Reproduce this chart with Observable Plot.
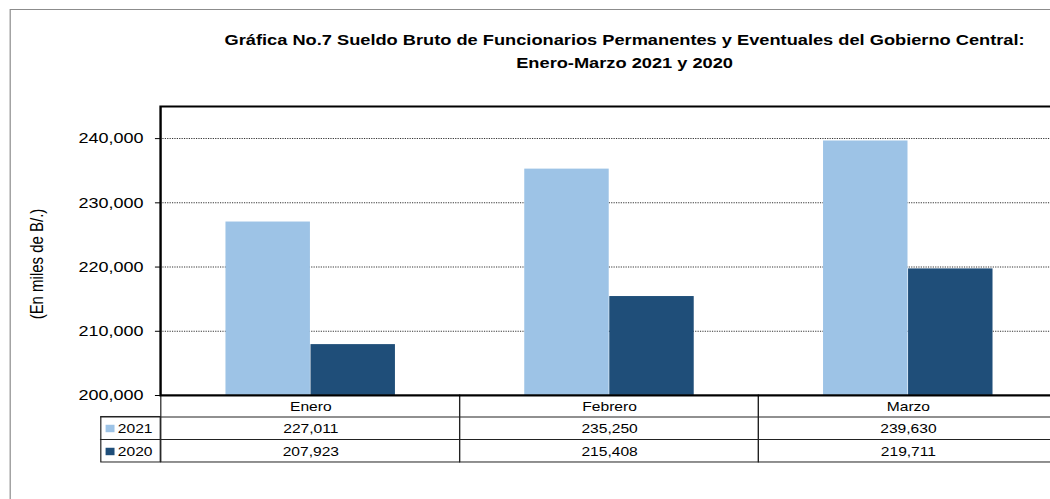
<!DOCTYPE html>
<html><head><meta charset="utf-8">
<script src="https://cdn.jsdelivr.net/npm/d3@7"></script>
<script src="https://cdn.jsdelivr.net/npm/@observablehq/plot@0.6"></script>
<style>
html,body{margin:0;padding:0;background:#fff;overflow:hidden;width:1050px;height:499px;}
#stage{position:absolute;left:0;top:0;width:900px;height:499px;transform:scaleX(1.2);transform-origin:0 0;font-family:"Liberation Sans",Arial,sans-serif;}
#border{position:absolute;left:7.5px;top:8.5px;width:1000px;height:600px;border:1px solid #8c8c8c;}
#title{position:absolute;left:0;top:28px;width:1041px;text-align:center;font-weight:bold;font-size:15.2px;line-height:23px;color:#000;}
#chart{position:absolute;left:0;top:95px;}
</style></head><body>
<div id="stage"><div id="border"></div><div id="title"></div><div id="chart"></div></div>
<script>
const months = ["Enero", "Febrero", "Marzo"];
const years = ["2021", "2020"];
const values2021 = [227011, 235250, 239630];
const values2020 = [207923, 215408, 219711];
const yTicks = [200000, 210000, 220000, 230000, 240000];
const gridTicks = [210000, 220000, 230000, 240000];
const yDomain = [200000, 245000];
const colors = ["#9DC3E6", "#1F4E79"];
const titleLines = ["Gráfica No.7 Sueldo Bruto de Funcionarios Permanentes y Eventuales del Gobierno Central:", "Enero-Marzo 2021 y 2020"];
const yLabel = "(En miles de B/.)";

const rows2021 = months.map((m, i) => ({month: m, year: years[0], value: values2021[i]}));
const rows2020 = months.map((m, i) => ({month: m, year: years[1], value: values2020[i]}));
const fmt = d3.format(",");

document.getElementById("title").innerHTML = titleLines.map(t => `<div>${t}</div>`).join("");

// layout (unstretched coordinates; the stage is stretched horizontally by 1.2)
const W = 881.7, H = 404, ML = 133.3, MT = 11, MB = 104;
const bw = (W - ML) / months.length;
const barW = bw * 0.284;
const side = (bw - 2 * barW) / 2;
const rowDy = [11, 33, 56];
const lineDy = [21.5, 44, 67];
const legW = 50;
const y0 = yDomain[0];

const chart = Plot.plot({
  width: W, height: H,
  marginTop: MT, marginBottom: MB, marginLeft: ML, marginRight: 0,
  style: {fontFamily: "'Liberation Sans', Arial, sans-serif", background: "transparent", color: "#000", overflow: "visible"},
  x: {domain: months, padding: 0, axis: null},
  y: {domain: yDomain},
  color: {domain: years, range: colors},
  marks: [
    Plot.ruleY(gridTicks, {stroke: "#333", strokeDasharray: "1,1", strokeWidth: 1}),
    Plot.barY(rows2021, {x: "month", y1: y0, y2: "value", fill: "year", insetLeft: side, insetRight: side + barW}),
    Plot.barY(rows2020, {x: "month", y1: y0, y2: "value", fill: "year", insetLeft: side + barW, insetRight: side}),
    Plot.axisY({ticks: yTicks, tickFormat: fmt, tickSize: 4.2, tickPadding: 10, fontSize: 15, label: null}),
    Plot.text([yLabel], {frameAnchor: "left", text: d => d, rotate: -90, textAnchor: "middle", dx: -102.5, dy: 13, fontSize: 15}),
    // data table
    Plot.barY(months, {x: d => d, y1: y0, y2: y0, insetBottom: -lineDy[2], fill: "none", stroke: "#222", strokeWidth: 1}),
    Plot.barY([months[0]], {x: d => d, y1: y0, y2: y0, insetTop: lineDy[0], insetBottom: -lineDy[2], insetLeft: -legW, insetRight: bw, fill: "none", stroke: "#222", strokeWidth: 1}),
    Plot.ruleY([y0], {dy: lineDy[0], insetLeft: -legW, stroke: "#222", strokeWidth: 1}),
    Plot.ruleY([y0], {dy: lineDy[1], insetLeft: -legW, stroke: "#222", strokeWidth: 1}),
    Plot.text(months, {x: d => d, y: y0, dy: rowDy[0], text: d => d, fontSize: 13}),
    Plot.text(rows2021, {x: "month", y: y0, dy: rowDy[1], text: d => fmt(d.value), fontSize: 13}),
    Plot.text(rows2020, {x: "month", y: y0, dy: rowDy[2], text: d => fmt(d.value), fontSize: 13}),
    Plot.dot([years[0]], {frameAnchor: "left", y: y0, dy: rowDy[1], dx: -42.1, symbol: "square", r: 4.2, fill: d => d, stroke: "none"}),
    Plot.dot([years[1]], {frameAnchor: "left", y: y0, dy: rowDy[2], dx: -42.1, symbol: "square", r: 4.2, fill: d => d, stroke: "none"}),
    Plot.text([years[0]], {frameAnchor: "left", y: y0, dy: rowDy[1], dx: -35.6, text: d => d, textAnchor: "start", fontSize: 13}),
    Plot.text([years[1]], {frameAnchor: "left", y: y0, dy: rowDy[2], dx: -35.6, text: d => d, textAnchor: "start", fontSize: 13}),
    Plot.frame({stroke: "#000", strokeWidth: 2})
  ]
});
chart.style.maxWidth = "none";
document.getElementById("chart").appendChild(chart);
</script>
</body></html>
